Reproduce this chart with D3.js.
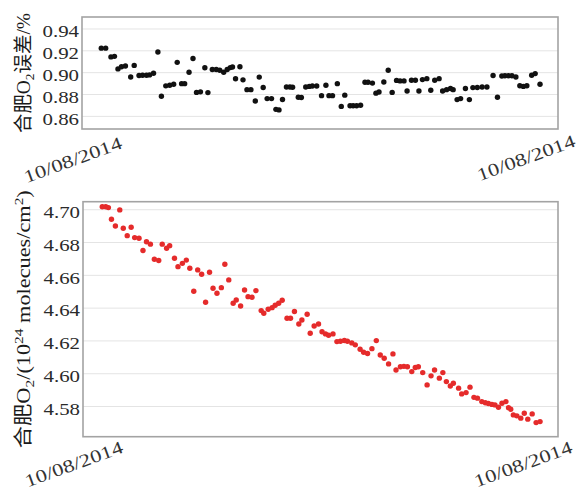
<!DOCTYPE html>
<html><head><meta charset="utf-8">
<script src="https://cdn.jsdelivr.net/npm/d3@7"></script>
<style>html,body{margin:0;padding:0;background:#fff;} svg{display:block}</style>
</head><body>
<svg id="chart" width="576" height="491"></svg>
<script>
const errTime = [0,1.0,2.2,3.0,3.8,4.6,5.5,6.7,7.5,8.6,9.4,10.3,11.0,11.9,12.9,13.7,14.7,15.6,16.5,17.3,18.3,19.0,20.0,20.9,21.7,22.6,23.6,24.3,25.3,26.2,27.0,27.9,28.7,29.4,29.9,30.6,31.6,32.3,33.2,34.1,35.1,36.0,36.9,37.8,38.8,39.8,40.5,41.3,42.2,43.0,43.6,44.9,45.6,46.6,47.4,48.1,49.1,50.2,51.2,51.9,52.7,53.8,54.7,55.5,56.7,57.4,58.2,59.1,60.1,60.8,61.8,62.6,63.3,64.4,65.4,66.3,67.3,68.1,69.0,69.7,70.7,71.6,72.4,73.2,74.2,75.1,76.0,77.0,77.8,78.7,79.6,80.2,81.1,81.9,83.0,83.9,84.7,85.7,86.8,87.9,89.3,90.3,91.3,92.0,92.8,93.6,94.5,95.4,96.2,97.0,98.1,98.9,100];
const errValue = [0.922,0.922,0.914,0.9145,0.903,0.905,0.9057,0.8956,0.9062,0.897,0.8972,0.8972,0.8975,0.899,0.9185,0.878,0.8875,0.888,0.889,0.909,0.8895,0.8895,0.900,0.9125,0.8815,0.882,0.904,0.8813,0.9024,0.9024,0.9017,0.900,0.9024,0.9042,0.9048,0.894,0.905,0.893,0.884,0.884,0.8736,0.8955,0.886,0.8758,0.8758,0.866,0.8655,0.875,0.8865,0.8865,0.8862,0.877,0.8768,0.8865,0.887,0.8873,0.8873,0.8785,0.888,0.8785,0.8785,0.8895,0.8687,0.879,0.8693,0.8693,0.8693,0.8697,0.8908,0.8908,0.890,0.8808,0.8819,0.891,0.9017,0.8815,0.8925,0.892,0.892,0.8828,0.8926,0.8926,0.8828,0.8932,0.8941,0.8834,0.8926,0.8941,0.8828,0.884,0.885,0.884,0.8749,0.8758,0.885,0.8749,0.8859,0.886,0.8865,0.8865,0.8969,0.877,0.8965,0.8968,0.8968,0.8968,0.8956,0.8876,0.887,0.8876,0.8972,0.8987,0.8889];

const colTime = [0,0.8,1.4,2.1,3.0,4.0,4.8,5.7,6.6,7.4,8.4,9.3,10.1,11.0,11.9,12.9,13.7,14.7,15.4,16.5,17.3,18.3,19.2,20.0,20.9,21.8,22.7,23.6,24.5,25.3,26.2,27.2,28.0,28.9,29.9,30.6,31.6,32.5,33.3,34.2,35.1,36.3,36.9,37.9,38.8,39.5,40.3,41.1,42.2,43.0,43.9,44.9,45.6,46.8,47.5,48.4,49.4,50.2,51.0,51.7,52.7,53.6,54.4,55.3,56.0,57.0,57.8,58.9,59.7,60.6,61.6,62.6,63.5,64.4,65.4,66.4,67.1,68.1,68.9,69.7,70.7,71.5,72.2,73.2,74.2,75.1,75.9,77.0,77.8,78.6,79.5,80.2,81.4,82.1,83.1,84.0,84.9,85.7,86.7,87.5,88.2,89.0,89.7,90.5,91.3,92.2,92.8,93.3,93.9,94.7,95.6,96.4,97.2,98.2,99.1,100];
const colValue = [4.7015,4.7015,4.701,4.6939,4.6898,4.6996,4.6884,4.6839,4.689,4.6827,4.6823,4.6748,4.6802,4.6787,4.6695,4.6687,4.6787,4.6762,4.6778,4.6701,4.665,4.667,4.669,4.664,4.650,4.663,4.6604,4.6433,4.6616,4.6518,4.6488,4.6522,4.6665,4.6569,4.6427,4.6447,4.641,4.6508,4.6467,4.6463,4.6504,4.6382,4.6366,4.639,4.640,4.6415,4.6427,4.6445,4.6335,4.6335,4.6376,4.630,4.6325,4.636,4.6244,4.6288,4.630,4.6253,4.624,4.6232,4.624,4.6193,4.6195,4.620,4.6195,4.6185,4.6173,4.6146,4.6128,4.612,4.615,4.6199,4.6111,4.6091,4.6057,4.6118,4.602,4.604,4.6042,4.604,4.601,4.6035,4.604,4.6004,4.5929,4.5984,4.602,4.597,4.6004,4.5949,4.5922,4.5939,4.5909,4.5874,4.5882,4.5915,4.5853,4.5848,4.5827,4.582,4.5815,4.581,4.5807,4.5793,4.5817,4.5827,4.579,4.578,4.5746,4.574,4.5726,4.5756,4.572,4.5752,4.5699,4.5705];

const errTicks = [0.86, 0.88, 0.90, 0.92, 0.94];
const colTicks = [4.58, 4.60, 4.62, 4.64, 4.66, 4.68, 4.70];
const xTickTimes = [0, 100];
const xTickLabels = ["10/08/2014", "10/08/2014"];

// ---- drawing ----
const FONT = "'Liberation Serif', 'Noto Sans CJK SC', serif";
const svg = d3.select("#chart");

function panel(cfg) {
  const w = cfg.right - cfg.left, h = cfg.bottom - cfg.top;
  const g = svg.append("g").attr("transform", `translate(${cfg.left},${cfg.top})`);
  const x = d3.scaleLinear().domain([-4.4, 104.1]).range([0, w]);
  const y = d3.scaleLinear().domain(cfg.yDomain).range([h, 0]);

  g.append("rect").attr("width", w).attr("height", h).attr("fill", "#fff");

  const ya = g.append("g").call(d3.axisLeft(y).tickValues(cfg.ticks).tickSize(-w).tickPadding(3).tickFormat(d3.format(".2f")));
  ya.select(".domain").remove();
  ya.selectAll("line").attr("stroke", "#e4e4e4").attr("stroke-width", 1);
  ya.selectAll("text").attr("font-family", FONT).attr("font-size", 16.5).attr("fill", "#2a2a2a")
    .attr("dy", "0.5em").attr("textLength", 36.5).attr("lengthAdjust", "spacingAndGlyphs");

  g.append("rect").attr("width", w).attr("height", h).attr("fill", "none")
    .attr("stroke", "#a3a3a3").attr("stroke-width", 1.6);

  g.append("g").selectAll("circle").data(cfg.time.map((t, i) => [t, cfg.values[i]]))
    .join("circle").attr("cx", d => x(d[0])).attr("cy", d => y(d[1]))
    .attr("r", 2.7).attr("fill", cfg.color);

  const xa = g.append("g").attr("transform", `translate(0,${h})`)
    .call(d3.axisBottom(x).tickValues(xTickTimes).tickSize(0).tickFormat((d, i) => xTickLabels[i]));
  xa.select(".domain").remove();
  xa.selectAll("text").attr("font-family", FONT).attr("font-size", 18).attr("fill", "#333")
    .attr("text-anchor", "end").attr("x", 0).attr("y", 0).attr("dy", 0)
    .attr("textLength", 103).attr("lengthAdjust", "spacingAndGlyphs")
    .attr("transform", (d, i) => `translate(${cfg.labelOff[i][0]},${cfg.labelOff[i][1]}) rotate(-20)`);

  // rotated y title
  const t = svg.append("text").attr("font-family", FONT).attr("font-size", 19.5).attr("fill", "#1a1a1a")
    .attr("text-anchor", "middle")
    .attr("textLength", cfg.titleLen).attr("lengthAdjust", "spacingAndGlyphs")
    .attr("transform", `translate(30,${cfg.top + h / 2}) rotate(-90)`);
  cfg.title.forEach(p => {
    const s = t.append("tspan").text(p.s);
    if (p.fs) s.attr("font-size", p.fs);
    if (p.dy) s.attr("dy", p.dy);
  });
}

panel({
  left: 82, right: 558, top: 17, bottom: 129,
  yDomain: [0.848, 0.9505], ticks: errTicks,
  time: errTime, values: errValue, color: "#111111",
  labelOff: [[21.5, 19], [36, 17]], titleLen: 120,
  title: [{s: "合肥O"}, {s: "2", fs: 13.5, dy: 4}, {s: "误差/%", dy: -4}]
});

panel({
  left: 83, right: 558, top: 201.7, bottom: 436.7,
  yDomain: [4.5613, 4.7046], ticks: colTicks,
  time: colTime, values: colValue, color: "#e52b2b",
  labelOff: [[21.5, 15.5], [33, 15.5]], titleLen: 258,
  title: [{s: "合肥O"}, {s: "2", fs: 13.5, dy: 4}, {s: "/(10", dy: -4}, {s: "24", fs: 13.5, dy: -7},
          {s: " molecues/cm", dy: 7}, {s: "2", fs: 13.5, dy: -7}, {s: ")", dy: 7}]
});
</script>
</body></html>
